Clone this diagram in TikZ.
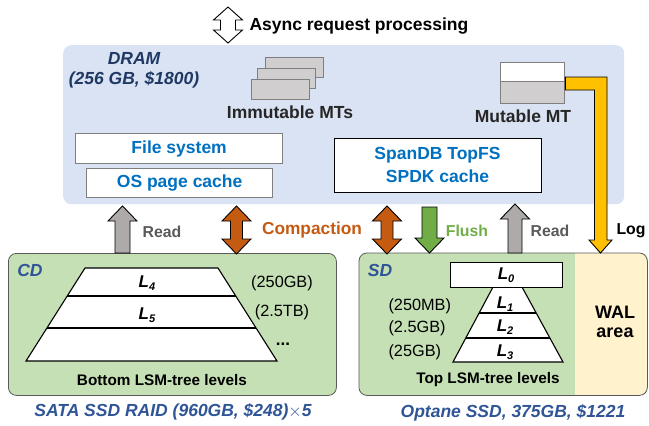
\documentclass[tikz,border=0pt]{standalone}
\usepackage{fontspec}
\setmainfont{Liberation Sans}
\definecolor{dramc}{HTML}{DAE3F3}
\definecolor{greenc}{HTML}{C5E0B4}
\definecolor{walc}{HTML}{FFF2CC}
\definecolor{navy}{HTML}{1F3864}
\definecolor{navyb}{HTML}{2F5597}
\definecolor{bluet}{HTML}{0070C0}
\definecolor{orangec}{HTML}{C55A11}
\definecolor{greena}{HTML}{70AD47}
\definecolor{greya}{HTML}{AEAAAA}
\definecolor{greyt}{HTML}{595959}
\definecolor{yellowc}{HTML}{FFC000}
\definecolor{mtgrey}{HTML}{D0CECE}
\definecolor{mtborder}{HTML}{7F7F7F}
\definecolor{darkt}{HTML}{262626}
\newcommand{\fsz}[1]{\fontsize{#1}{#1}\selectfont}
\newcommand{\upblk}[6][]{\draw[blk,#1] (#2-#6,#4) -- (#2-#6,#5) -- (#2-14.5,#5) -- (#2,#3) -- (#2+14.5,#5) -- (#2+#6,#5) -- (#2+#6,#4) -- cycle;}
\newcommand{\dnblk}[6][]{\draw[blk,#1] (#2-#6,#3) -- (#2-#6,#5) -- (#2-14.5,#5) -- (#2,#4) -- (#2+14.5,#5) -- (#2+#6,#5) -- (#2+#6,#3) -- cycle;}
% #2 xc, #3 top tip, #4 bottom tip, #5 top head base, #6 bottom head base, #7 shaft half
\newcommand{\dblblk}[7][]{\draw[blk,#1] (#2,#3) -- (#2+14.5,#5) -- (#2+#7,#5) -- (#2+#7,#6) -- (#2+14.5,#6) -- (#2,#4) -- (#2-14.5,#6) -- (#2-#7,#6) -- (#2-#7,#5) -- (#2-14.5,#5) -- cycle;}
\newcommand{\LL}[1]{{\bfseries\itshape\fsz{17}L\raisebox{-0.35ex}{\fsz{11}#1}}}
\begin{document}
\begin{tikzpicture}[x=1pt,y=-1pt,
  blk/.style={draw=black,line width=0.9pt,line join=miter},
  big/.style={font=\fsz{17.5}\bfseries},
  bigit/.style={font=\fsz{17.5}\bfseries\itshape},
  small/.style={font=\fsz{15.3}\bfseries},
  reg/.style={font=\fsz{16.3}},
  lbl/.style={font=\fsz{15.8}\bfseries},
  plainbox/.style={draw=mtborder,line width=1.3pt,fill=white,inner sep=0pt},
  mtbox/.style={draw=mtborder,line width=1.3pt,fill=mtgrey,inner sep=0pt},
  lvl/.style={draw=black,line width=1.1pt,fill=white},
]
\useasboundingbox (0,0) rectangle (649,426);
% DRAM
\node[fill=dramc,rounded corners=8pt,minimum width=561pt,minimum height=159pt,anchor=north west,inner sep=0pt] (dram) at (63,45) {};
\node[bigit,text=navy] (dramt) at (134,58) {DRAM};
\node[bigit,text=navy] (dramc2) at (134,80) {(256 GB, \$1800)};
% Async
\dblblk[fill=white]{228}{7}{43}{20}{30}{7.5}
\node[big,anchor=west] (async) at (246,26) {Async request processing};
% Immutable MTs
\node[mtbox,minimum width=58pt,minimum height=20pt,anchor=north west] (im1) at (265,57) {};
\node[mtbox,minimum width=58pt,minimum height=20pt,anchor=north west] (im2) at (257,68) {};
\node[mtbox,minimum width=58pt,minimum height=20pt,anchor=north west] (im3) at (251,79) {};
\node[big,text=darkt] (imt) at (290,112) {Immutable MTs};
% Mutable MT
\node[plainbox,minimum width=64pt,minimum height=19pt,anchor=north west] (mt1) at (500,62) {};
\node[mtbox,minimum width=64pt,minimum height=22pt,anchor=north west] (mt2) at (500,81) {};
\node[big,text=darkt] (mtt) at (523,116) {Mutable MT};
% File system / OS page cache
\node[plainbox,minimum width=207pt,minimum height=30pt,anchor=north west] (fs) at (75,133) {};
\node[big,text=bluet] (fst) at (fs.center) {File system};
\node[plainbox,minimum width=186pt,minimum height=29pt,anchor=north west] (os) at (86,168) {};
\node[big,text=bluet] (ost) at (os.center) {OS page cache};
% SpanDB
\node[draw=black,line width=1.3pt,fill=white,minimum width=207pt,minimum height=54pt,anchor=north west,inner sep=0pt] (sp) at (334,138) {};
\node[big,text=bluet] (spt1) at (437.5,155) {SpanDB TopFS};
\node[big,text=bluet] (spt2) at (437.5,176) {SPDK cache};
% CD box
\node[fill=greenc,draw=greyt,line width=0.8pt,rounded corners=8pt,minimum width=328pt,minimum height=142pt,anchor=north west,inner sep=0pt] (cd) at (8,253) {};
\node[bigit,text=navyb] (cdt) at (30,270) {CD};
\draw[lvl] (85,268) -- (218,268) -- (277,361) -- (26,361) -- cycle;
\draw[lvl] (67.2,296) -- (235.8,296);
\draw[lvl] (46.9,328) -- (256.1,328);
\node (l4) at (147,283) {\LL{4}};
\node (l5) at (147,315) {\LL{5}};
\node[reg] (s250) at (282,283) {(250GB)};
\node[reg] (s25t) at (282,312) {(2.5TB)};
\node[font=\fsz{17}\bfseries] (dots) at (283,344) {...};
\node[small] (bot) at (162,380) {Bottom LSM-tree levels};
\node[bigit,text=navyb] (sata) at (173,412) {SATA SSD RAID (960GB, \$248)$\times$5};
% SD box
\node[fill=greenc,rounded corners=8pt,minimum width=288pt,minimum height=142pt,anchor=north west,inner sep=0pt] (sd) at (359,253) {};
\begin{scope}
\clip[rounded corners=8pt] (359,253) rectangle (647,395);
\fill[walc] (575,253) rectangle (647,395);
\end{scope}
\draw[greyt,line width=0.8pt,rounded corners=8pt] (sd.north west) rectangle (sd.south east);
\node[bigit,text=navyb] (sdt) at (380,270) {SD};
\draw[lvl] (493,287) -- (522,287) -- (563,362) -- (453,362) -- cycle;
\draw[lvl] (479.1,313) -- (536.2,313);
\draw[lvl] (465.8,338) -- (549.9,338);
\node[draw=black,line width=1.3pt,fill=white,minimum width=112pt,minimum height=25pt,anchor=north west,inner sep=0pt] (l0box) at (450,262) {};
\node (l0) at (506,275) {\LL{0}};
\node (l1) at (505,304) {\LL{1}};
\node (l2) at (505,327) {\LL{2}};
\node (l3) at (505,352) {\LL{3}};
\node[reg,anchor=west] (m250) at (385,306) {(250MB)};
\node[reg,anchor=west] (g25) at (385,328) {(2.5GB)};
\node[reg,anchor=west] (g25b) at (385,352) {(25GB)};
\node[small] (top) at (488,380) {Top LSM-tree levels};
\node[font=\fsz{18}\bfseries] (wal1) at (615,312) {WAL};
\node[font=\fsz{18}\bfseries] (wal2) at (615,333) {area};
\node[bigit,text=navyb] (opt) at (513,413) {Optane SSD, 375GB, \$1221};
% Arrows
\upblk[fill=greya]{122.5}{206}{253}{221}{7.5}
\upblk[fill=greya]{515}{204}{253}{219}{7}
\dblblk[fill=orangec]{236.5}{206}{254}{221}{239}{6}
\dblblk[fill=orangec]{387}{206}{254}{221}{239}{6}
\dnblk[fill=greena]{429.5}{207}{253}{238}{7.5}
\draw[blk,fill=yellowc] (mt2.north east |- 0,77) -- (607,77) -- (607,240) -- (612,240) -- (600.5,253) -- (589,240) -- (594.5,240) -- (594.5,90) -- (mt2.north east |- 0,90) -- cycle;
\node[lbl,text=greyt] (rd1) at (162,232) {Read};
\node[font=\fsz{17.3}\bfseries,text=orangec] (cmp) at (312,230) {Compaction};
\node[lbl,text=greena] (fl) at (467,231) {Flush};
\node[lbl,text=greyt] (rd2) at (550,231) {Read};
\node[lbl] (log) at (631,231) {Log};
\end{tikzpicture}
\end{document}
